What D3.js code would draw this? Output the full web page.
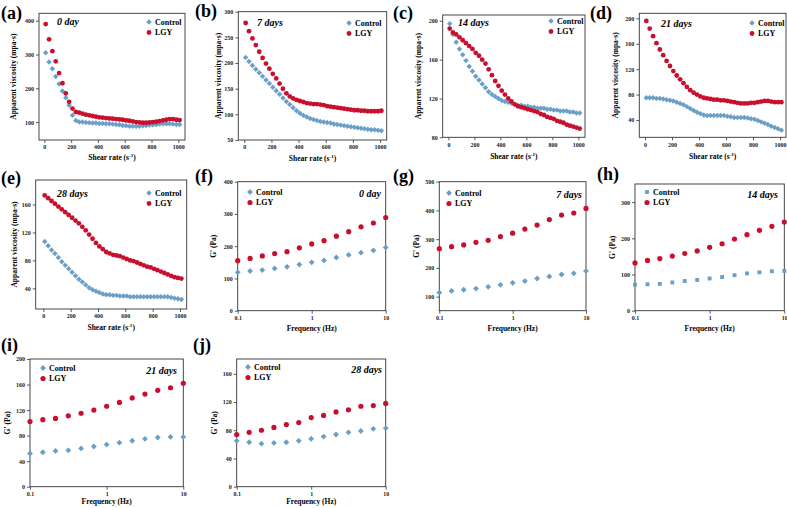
<!DOCTYPE html>
<html>
<head>
<meta charset="utf-8">
<script src="https://cdn.jsdelivr.net/npm/d3@7"></script>
<style>
  body { margin: 0; background: #fff; }
</style>
</head>
<body>
<svg id="fig" width="787" height="508"></svg>
<script>
// ---- data: steady shear (apparent viscosity, mpa·s) ----
const shearRate = [10, 35, 60, 85, 110, 135, 160, 185, 210, 235, 260, 285, 310, 335, 360, 385, 410, 435, 460, 485, 510, 535, 560, 585, 610, 635, 660, 685, 710, 735, 760, 785, 810, 835, 860, 885, 910, 935, 960, 985, 1010];

const viscControl0 = [305, 278, 258, 235, 213, 192, 172, 150, 120, 105, 100, 100, 99, 98, 97, 97, 96, 96, 95, 95, 94, 93, 92, 90, 89, 88, 88, 88, 88, 89, 90, 91, 92, 93, 94, 95, 95, 95, 94, 93, 93];
const viscLGY0     = [390, 345, 310, 280, 245, 215, 185, 160, 140, 130, 128, 125, 122, 120, 118, 116, 114, 113, 112, 111, 110, 109, 108, 107, 105, 104, 102, 100, 99, 98, 98, 99, 100, 101, 103, 105, 107, 109, 109, 107, 106];

const viscControl7 = [211, 203, 195, 188, 181, 174, 167, 160, 153, 146, 139, 132, 125, 119, 113, 107, 102, 98, 95, 92, 90, 88, 86, 85, 84, 83, 81, 80, 79, 78, 77, 76, 75, 74, 73, 72, 71, 70, 70, 69, 68];
const viscLGY7     = [278, 262, 248, 235, 222, 210, 199, 189, 179, 170, 160, 150, 141, 135, 131, 128, 126, 124, 122, 121, 120, 120, 119, 118, 116, 115, 114, 113, 112, 111, 110, 109, 108, 108, 107, 107, 106, 106, 106, 106, 107];

const viscControl14 = [197, 186, 178, 171, 165, 159, 153, 148, 143, 139, 135, 131, 127, 124, 122, 120, 118, 117, 116, 115, 114, 113, 113, 112, 112, 111, 111, 110, 110, 110, 109, 109, 108, 108, 107, 107, 107, 106, 106, 105, 105];
const viscLGY14     = [192, 188, 186, 183, 180, 177, 174, 171, 167, 164, 160, 156, 150, 144, 138, 133, 128, 124, 120, 117, 114, 112, 111, 110, 109, 108, 107, 106, 104, 103, 101, 100, 99, 97, 96, 95, 93, 92, 91, 90, 89];

const viscControl21 = [75, 75, 75, 74, 74, 73, 72, 71, 70, 68, 66, 64, 61, 58, 55, 52, 50, 48, 47, 47, 47, 47, 47, 47, 46, 45, 44, 44, 44, 44, 43, 42, 41, 39, 37, 35, 33, 30, 28, 26, 24];
const viscLGY21     = [196, 184, 172, 161, 151, 142, 133, 125, 117, 110, 104, 98, 92, 87, 83, 80, 77, 75, 74, 73, 72, 72, 71, 71, 70, 69, 68, 67, 66, 66, 66, 67, 67, 68, 69, 70, 70, 69, 68, 68, 68];

const viscControl28 = [107, 101, 95, 90, 84, 78, 73, 68, 63, 58, 53, 49, 45, 41, 38, 36, 34, 32, 31, 31, 30, 30, 29, 29, 29, 28, 28, 28, 28, 28, 28, 28, 28, 28, 28, 28, 28, 27, 26, 25, 24];
const viscLGY28     = [173, 169, 165, 161, 157, 153, 149, 145, 141, 137, 133, 128, 123, 117, 111, 105, 100, 96, 92, 90, 88, 87, 86, 84, 82, 80, 79, 77, 75, 73, 71, 70, 68, 66, 64, 62, 60, 58, 56, 55, 54];

// ---- data: frequency sweep (G', Pa) ----
const freqHz = [0.1, 0.147, 0.215, 0.316, 0.464, 0.681, 1, 1.468, 2.154, 3.162, 4.642, 6.813, 10];

const gControl0  = [119, 123, 126, 131, 136, 143, 150, 156, 165, 173, 180, 187, 196];
const gLGY0      = [155, 162, 170, 177, 183, 195, 207, 217, 231, 245, 260, 272, 289];
const gControl7  = [114, 120, 124, 128, 134, 141, 148, 154, 163, 170, 177, 181, 189];
const gLGY7      = [267, 274, 280, 289, 296, 309, 321, 335, 349, 368, 384, 391, 407];
const gControl14 = [72, 73, 74, 78, 82, 85, 89, 93, 98, 103, 106, 109, 110];
const gLGY14     = [132, 139, 144, 151, 158, 165, 175, 185, 198, 210, 222, 233, 245];
const gControl21 = [52, 54, 56, 57, 60, 63, 66, 69, 72, 75, 77, 78, 78];
const gLGY21     = [102, 105, 107, 111, 115, 120, 126, 132, 139, 145, 151, 155, 162];
const gControl28 = [65, 63, 61, 62, 63, 65, 68, 71, 74, 77, 79, 82, 83];
const gLGY28     = [74, 77, 80, 84, 88, 91, 98, 101, 106, 109, 114, 115, 118];

// ---- tick labels ----
const shearTicks = [0, 200, 400, 600, 800, 1000];
const freqTicks = [0.1, 1, 10];
const viscTicks0 = [100, 200, 300, 400];
const viscTicks7 = [50, 100, 150, 200, 250, 300];
const viscTicks14 = [80, 120, 160, 200];
const viscTicks21 = [40, 80, 120, 160, 200];
const viscTicks28 = [40, 80, 120, 160];
const gTicks0 = [0, 100, 200, 300, 400];
const gTicks7 = [100, 200, 300, 400, 500];
const gTicks14 = [0, 100, 200, 300];
const gTicks21 = [0, 40, 80, 120, 160, 200];
const gTicks28 = [0, 40, 80, 120, 160];

const seriesNames = ['Control', 'LGY'];

const blue = '#6a9fc8';
const red = '#c8102e';
const serif = '"Liberation Serif", "Times New Roman", "DejaVu Serif", serif';

// panel layout: box = [left, top, right, bottom]
const panels = [
  {tag: '(a)', tagPos: [1, 19], kind: 'shear', day: '0 day', ctrl: viscControl0, lgy: viscLGY0, yTicks: viscTicks0,
   box: [39, 13.3, 185, 140], xDom: [-40, 1050], yDom: [47, 422], dayPos: [57, 25, 'start'], leg: [149, 22], yOff: 23, xOff: 20},
  {tag: '(b)', tagPos: [195, 17], kind: 'shear', day: '7 days', ctrl: viscControl7, lgy: viscLGY7, yTicks: viscTicks7,
   box: [238.3, 11.7, 386.7, 140], xDom: [-44, 1049], yDom: [50, 300], dayPos: [257, 26, 'start'], leg: [349, 23], yOff: 17, xOff: 21},
  {tag: '(c)', tagPos: [393, 19], kind: 'shear', day: '14 days', ctrl: viscControl14, lgy: viscLGY14, yTicks: viscTicks14,
   box: [442.7, 15, 585, 137.3], xDom: [-44, 1051], yDom: [80, 206], dayPos: [458, 26, 'start'], leg: [551, 21], yOff: 22, xOff: 22},
  {tag: '(d)', tagPos: [590, 19], kind: 'shear', day: '21 days', ctrl: viscControl21, lgy: viscLGY21, yTicks: viscTicks21,
   box: [639.3, 13.3, 786, 137.3], xDom: [-42, 1044], yDom: [12.7, 208], dayPos: [661, 27, 'start'], leg: [752, 23], yOff: 21, xOff: 22},
  {tag: '(e)', tagPos: [1, 184], kind: 'shear', day: '28 days', ctrl: viscControl28, lgy: viscLGY28, yTicks: viscTicks28,
   box: [35.7, 180, 186.7, 309], xDom: [-56, 1049], yDom: [10.5, 195], dayPos: [57, 197, 'start'], leg: [149, 193], yOff: 19, xOff: 21},
  {tag: '(f)', tagPos: [195, 182], kind: 'freq', day: '0 day', ctrl: gControl0, lgy: gLGY0, yTicks: gTicks0,
   box: [237.7, 181.7, 385.7, 310.7], yDom: [0, 400], dayPos: [381, 197, 'end'], leg: [250, 192], yOff: 22, xOff: 20},
  {tag: '(g)', tagPos: [393, 182], kind: 'freq', day: '7 days', ctrl: gControl7, lgy: gLGY7, yTicks: gTicks7,
   box: [439.3, 181.7, 586, 310.7], yDom: [51, 500], dayPos: [582, 198, 'end'], leg: [449, 193], yOff: 20, xOff: 20},
  {tag: '(h)', tagPos: [597, 180], kind: 'freq', day: '14 days', ctrl: gControl14, lgy: gLGY14, yTicks: gTicks14, square: true,
   box: [635, 184, 784.3, 310.7], yDom: [0, 350], dayPos: [778, 198, 'end'], leg: [647, 192], yOff: 20, xOff: 20},
  {tag: '(i)', tagPos: [1, 351], kind: 'freq', day: '21 days', ctrl: gControl21, lgy: gLGY21, yTicks: gTicks21,
   box: [30, 359, 183.3, 486.7], yDom: [0, 200], dayPos: [177, 374, 'end'], leg: [43, 368], yOff: 20, xOff: 17},
  {tag: '(j)', tagPos: [193, 351], kind: 'freq', day: '28 days', ctrl: gControl28, lgy: gLGY28, yTicks: gTicks28,
   box: [236.7, 359, 385.7, 486.7], yDom: [0, 181], dayPos: [382, 373, 'end'], leg: [248, 367], yOff: 20, xOff: 17}
];

const svg = d3.select('#fig');

function marker(g, type, x, y, big) {
  if (type === 'circle') {
    g.append('circle').attr('cx', x).attr('cy', y).attr('r', big ? 2.6 : 2.4).attr('fill', red);
  } else if (type === 'square') {
    g.append('path').attr('d', d3.symbol(d3.symbolSquare, big ? 15 : 13)())
      .attr('transform', `translate(${x},${y})`).attr('fill', blue);
  } else {
    g.append('path').attr('d', d3.symbol(d3.symbolSquare, big ? 17 : 15)())
      .attr('transform', `translate(${x},${y}) rotate(45)`).attr('fill', blue);
  }
}

function drawPanel(p) {
  const [l, t, r, b] = p.box;
  const g = svg.append('g');
  const big = p.kind === 'freq';

  const x = p.kind === 'shear'
    ? d3.scaleLinear().domain(p.xDom).range([l, r])
    : d3.scaleLog().domain([0.1, 10]).range([l, r]);
  const y = d3.scaleLinear().domain(p.yDom).range([b, t]);
  const xs = p.kind === 'shear' ? shearRate : freqHz;

  // frame
  g.append('rect').attr('x', l).attr('y', t).attr('width', r - l).attr('height', b - t)
    .attr('fill', 'none').attr('stroke', '#333').attr('stroke-width', 0.9);

  // axes
  const xAxis = d3.axisBottom(x).tickSize(3).tickPadding(2);
  if (p.kind === 'shear') xAxis.tickValues(shearTicks).tickFormat(d3.format('d'));
  else xAxis.tickValues(freqTicks).tickFormat(d => d === 0.1 ? '0.1' : d3.format('d')(d));
  const gx = g.append('g').attr('transform', `translate(0,${b})`).call(xAxis);
  const gy = g.append('g').attr('transform', `translate(${l},0)`)
    .call(d3.axisLeft(y).tickValues(p.yTicks).tickSize(3).tickPadding(2).tickFormat(d3.format('d')));
  [gx, gy].forEach(a => {
    a.attr('font-family', serif).attr('font-size', 6);
    a.select('.domain').remove();
    a.selectAll('line').attr('stroke', '#333').attr('stroke-width', 0.8);
    a.selectAll('text').attr('fill', '#1a1a1a');
  });

  // axis titles
  const xt = g.append('text').attr('x', (l + r) / 2).attr('y', b + p.xOff)
    .attr('text-anchor', 'middle').attr('font-size', 7.5);
  if (p.kind === 'shear') {
    xt.append('tspan').text('Shear rate (s');
    xt.append('tspan').attr('font-size', 5).attr('dy', -3).text('-1');
    xt.append('tspan').attr('dy', 3).text(')');
  } else {
    xt.text('Frequency (Hz)');
  }
  g.append('text')
    .attr('transform', `translate(${l - p.yOff},${(t + b) / 2}) rotate(-90)`)
    .attr('text-anchor', 'middle').attr('font-size', 7.5)
    .text(p.kind === 'shear' ? 'Apparent viscosity (mpa·s)' : "G' (Pa)");

  // points
  const ctrlType = p.square ? 'square' : 'diamond';
  const pts = g.append('g');
  p.ctrl.forEach((v, i) => marker(pts, ctrlType, x(xs[i]), y(v), big));
  p.lgy.forEach((v, i) => marker(pts, 'circle', x(xs[i]), y(v), big));

  // legend
  const [lx, ly] = p.leg;
  marker(g, ctrlType, lx, ly, big);
  marker(g, 'circle', lx, ly + 10.5, big);
  seriesNames.forEach((n, i) => {
    g.append('text').attr('x', lx + 6).attr('y', ly + i * 10.5 + 2.8)
      .attr('font-size', 8).text(n);
  });

  // day label
  g.append('text').attr('x', p.dayPos[0]).attr('y', p.dayPos[1])
    .attr('text-anchor', p.dayPos[2]).attr('font-size', 10).attr('font-style', 'italic')
    .text(p.day);

  // panel tag
  svg.append('text').attr('x', p.tagPos[0]).attr('y', p.tagPos[1])
    .attr('font-size', 18).text(p.tag);
}

panels.forEach(drawPanel);

svg.selectAll('text').attr('font-family', serif).attr('font-weight', 'bold');
</script>
</body>
</html>
